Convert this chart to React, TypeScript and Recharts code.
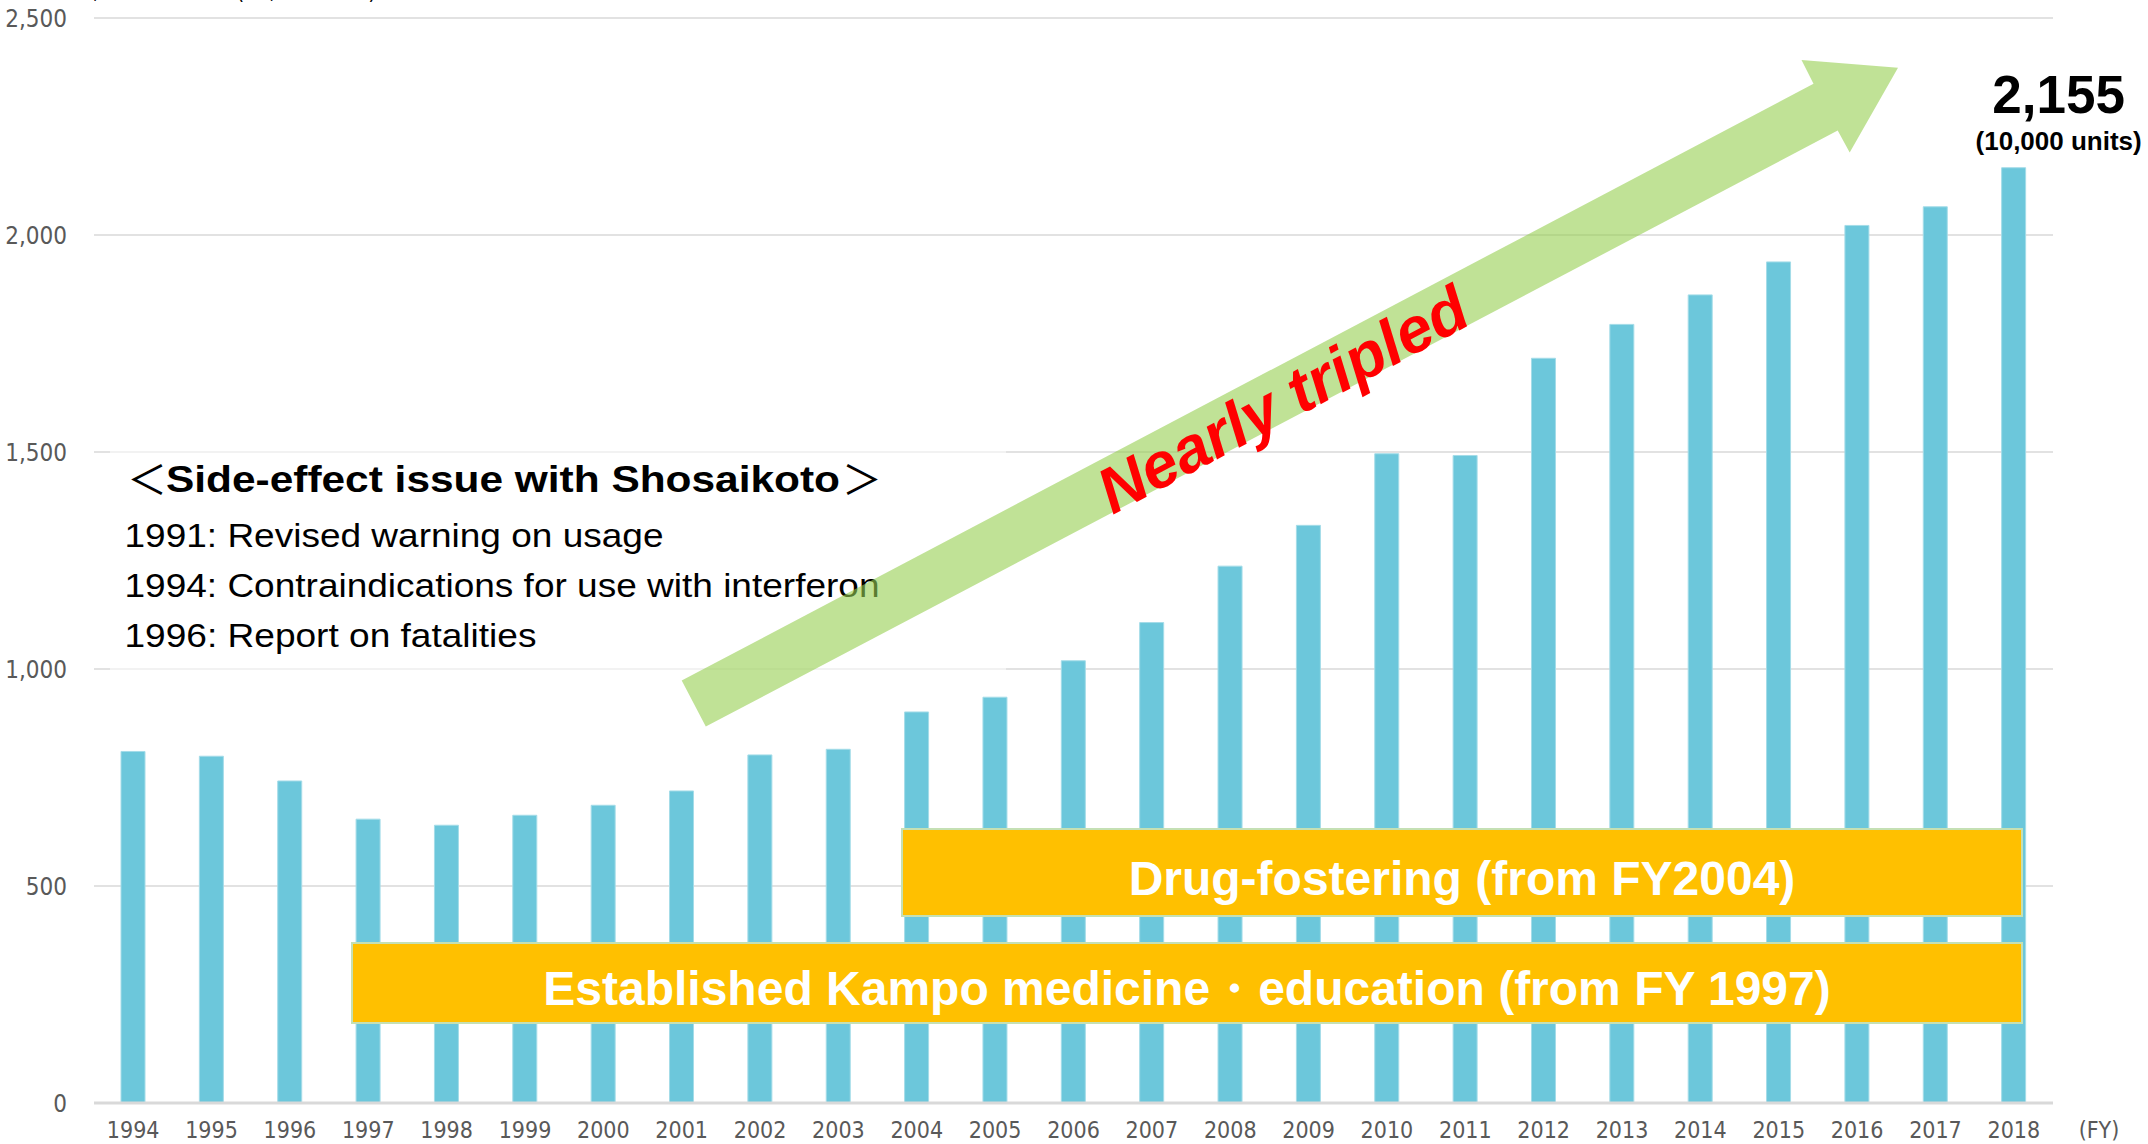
import React from "react";
import { BarChart, Bar, XAxis, YAxis, CartesianGrid, LabelList } from "recharts";

// Kampo preparation volume by fiscal year (10,000 units)
const fiscalYears = [
  "1994", "1995", "1996", "1997", "1998", "1999", "2000", "2001", "2002",
  "2003", "2004", "2005", "2006", "2007", "2008", "2009", "2010", "2011",
  "2012", "2013", "2014", "2015", "2016", "2017", "2018",
];
const volumes = [
  810, 799, 742, 654, 640, 663, 686, 719, 802, 815, 901, 935, 1019, 1107,
  1237, 1331, 1496, 1492, 1716, 1794, 1862, 1938, 2022, 2065, 2155,
];
const yTicks = [0, 500, 1000, 1500, 2000, 2500];

const sideEffectTitle = "Side-effect issue with Shosaikoto";
const sideEffectNotes = [
  "1991: Revised warning on usage",
  "1994: Contraindications for use with interferon",
  "1996: Report on fatalities",
];
const growthLabel = "Nearly tripled";
const drugFosteringLabel = "Drug-fostering (from FY2004)";
const kampoEducationLabel = "Established Kampo medicine・education (from FY 1997)";
const unitLabel = "(10,000 units)";
const axisTitle = "Sales, total volume (10,000 units)";

const data = fiscalYears.map((year, i) => ({ year, volume: volumes[i] }));

const W = 2148;
const H = 1144;
const ARIAL = "Arial, 'Liberation Sans', sans-serif";
const NARROW = "'Liberation Sans Narrow', 'Arial Narrow', 'DejaVu Sans Condensed', sans-serif";
const TICK = "#595959";
const GRID = "#D9D9D9";
const BAR = "#6CC7DB";
const BANNER = "#FFC000";
const BANNER_EDGE = "#C5E0B4";

const fmt = (v: number) => v.toLocaleString("en-US");

// value callout above the last bar
const LatestValue = (props: any) => {
  const { x, y, width, value, index } = props;
  if (index !== volumes.length - 1) return null;
  const cx = Number(x) + Number(width) / 2 + 45;
  const top = Number(y);
  return (
    <g fontFamily={ARIAL} fontWeight="bold" fill="#000" textAnchor="middle">
      <text x={cx} y={top - 55} fontSize={53}>
        {fmt(Number(value))}
      </text>
      <text x={cx} y={top - 18} fontSize={26}>
        {unitLabel}
      </text>
    </g>
  );
};

// upward green arrow drawn behind the growth label
const arrowPoints = [
  [681.7, 680.6],
  [1813.5, 83.8],
  [1801.5, 60],
  [1898, 67.7],
  [1849.7, 152.5],
  [1837.7, 130.6],
  [705.8, 726.6],
]
  .map((p) => p.join(","))
  .join(" ");

const Overlay = () => (
  <svg
    width={W}
    height={H}
    style={{ position: "absolute", left: 0, top: 0, pointerEvents: "none" }}
  >
    {/* cut-off axis title at the top edge */}
    <text x={40} y={-1} fontFamily={NARROW} fontSize={22} fill="#000">
      {axisTitle}
    </text>

    {/* side-effect note box */}
    <rect x={110} y={425} width={896} height={265} fill="#fff" opacity={0.55} />
    <text
      x={147}
      y={494}
      fontFamily="'Noto Sans CJK JP', sans-serif"
      fontSize={40}
      fill="#000"
      textAnchor="middle"
    >
      ＜
    </text>
    <text
      x={166}
      y={492}
      fontFamily={ARIAL}
      fontWeight="bold"
      fontSize={37}
      fill="#000"
      textLength={674}
      lengthAdjust="spacingAndGlyphs"
    >
      {sideEffectTitle}
    </text>
    <text
      x={862}
      y={494}
      fontFamily="'Noto Sans CJK JP', sans-serif"
      fontSize={40}
      fill="#000"
      textAnchor="middle"
    >
      ＞
    </text>
    {sideEffectNotes.map((line, i) => (
      <text
        key={line}
        x={124.5}
        y={547 + i * 50}
        fontFamily={ARIAL}
        fontSize={34}
        fill="#000"
        textLength={[539, 755, 412][i]}
        lengthAdjust="spacingAndGlyphs"
      >
        {line}
      </text>
    ))}

    {/* growth arrow */}
    <polygon points={arrowPoints} fill="#96CF50" opacity={0.6} />
    <text
      x={1293}
      y={419}
      fontFamily={ARIAL}
      fontWeight="bold"
      fontStyle="italic"
      fontSize={64}
      fill="#FF0000"
      textAnchor="middle"
      transform="rotate(-28 1293 419)"
    >
      {growthLabel}
    </text>

    {/* program banners */}
    <rect x={902} y={829} width={1120} height={87} fill={BANNER} stroke={BANNER_EDGE} strokeWidth={2} />
    <text x={1462} y={895} fontFamily={ARIAL} fontWeight="bold" fontSize={48} fill="#fff" textAnchor="middle">
      {drugFosteringLabel}
    </text>
    <rect x={352} y={943} width={1670} height={80} fill={BANNER} stroke={BANNER_EDGE} strokeWidth={2} />
    <text x={1187} y={1005} fontFamily={ARIAL} fontWeight="bold" fontSize={48} fill="#fff" textAnchor="middle">
      {kampoEducationLabel}
    </text>

    {/* axis unit */}
    <text x={2099} y={1138} fontFamily={NARROW} fontSize={23} fill={TICK} textAnchor="middle">
      (FY)
    </text>
  </svg>
);

export default function App() {
  return (
    <div style={{ position: "relative", width: W, height: H, background: "#fff" }}>
      <style>{`body{margin:0}`}</style>
      <BarChart
        width={W}
        height={H}
        data={data}
        margin={{ top: 18, right: 95, bottom: 0, left: 0 }}
      >
        <CartesianGrid vertical={false} stroke={GRID} strokeWidth={1.5} />
        <XAxis
          dataKey="year"
          height={41}
          interval={0}
          tickLine={false}
          tickSize={0}
          tickMargin={19}
          axisLine={{ stroke: GRID, strokeWidth: 3 }}
          tick={{ fill: TICK, fontSize: 23, fontFamily: NARROW }}
        />
        <YAxis
          width={94}
          domain={[0, 2500]}
          ticks={yTicks}
          axisLine={false}
          tickLine={false}
          tickSize={0}
          tickMargin={27}
          tickFormatter={fmt}
          tick={{ fill: TICK, fontSize: 24, fontFamily: NARROW }}
        />
        <Bar
          dataKey="volume"
          barSize={24}
          fill={BAR}
          stroke="#A4DCE8"
          strokeWidth={1}
          isAnimationActive={false}
        >
          <LabelList dataKey="volume" content={LatestValue} />
        </Bar>
      </BarChart>
      <Overlay />
    </div>
  );
}
